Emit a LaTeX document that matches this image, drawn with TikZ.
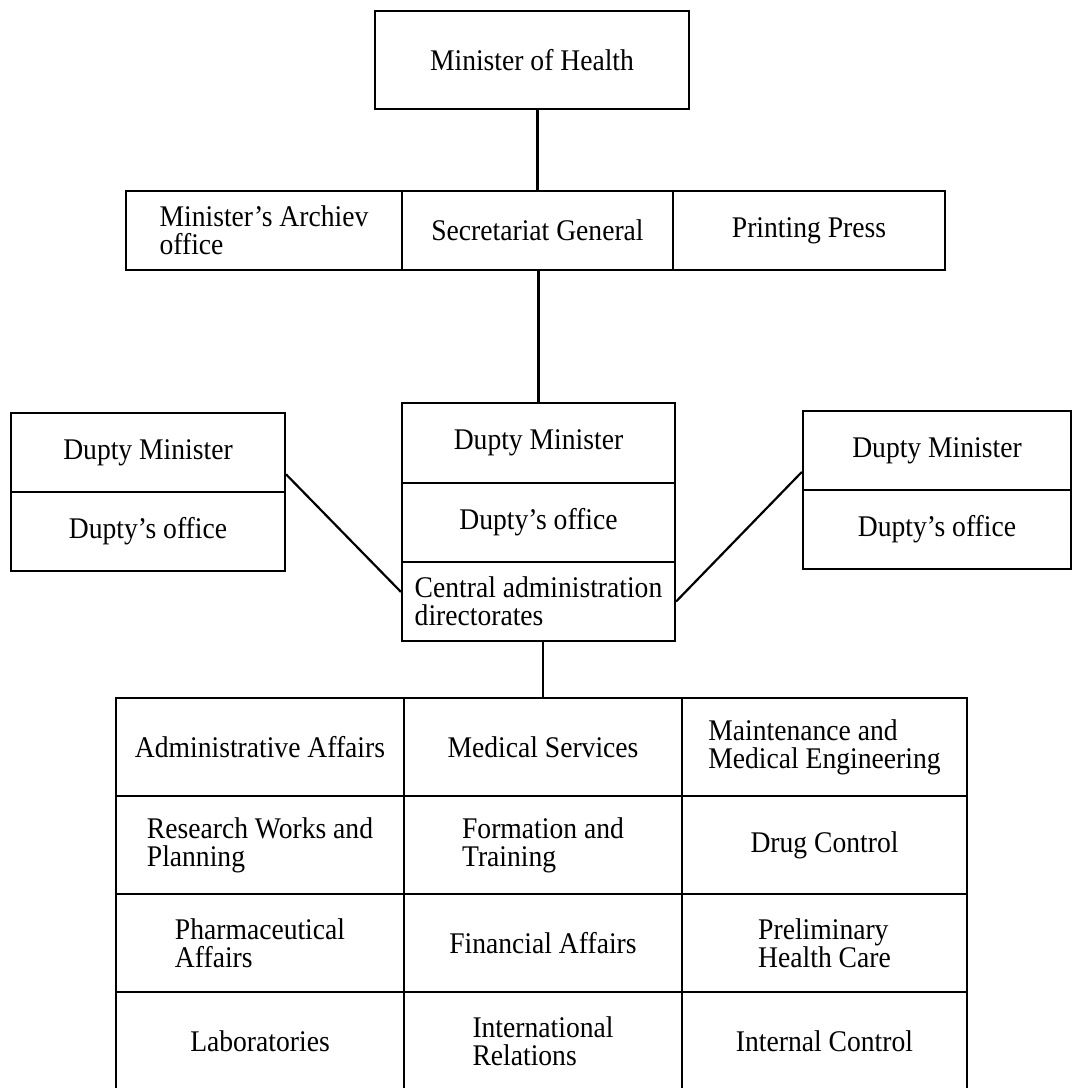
\documentclass[tikz,border=0pt]{standalone}
\usepackage{fontspec}
\setmainfont{Liberation Serif}[FakeStretch=0.92]
\begin{document}
\begin{tikzpicture}[x=1pt, y=-1pt,
            cell/.style = {draw, line width=2.2pt, inner sep=0pt,
                align=left, font=\fontsize{30}{28}\selectfont},
            dims/.style 2 args = {minimum width=#1pt, minimum height=#2pt},
            link/.style = {line width=2.2pt}]

        \useasboundingbox (0,0) rectangle (1074,1088);
        \clip (0,0) rectangle (1074,1088);

        % Minister
        \node[cell,dims={314}{98}] (chief) at (532,60) {Minister of Health};

        % Secretariat row
        \node[cell,dims={276}{79}] (archiv) at (264,230.5) {Minister's Archiev\\office};
        \node[cell,dims={271}{79}] (secgen) at (537.5,230.5) {Secretariat General};
        \node[cell,dims={272}{79}] (press) at (809,230.5) {Printing Press};

        % Deputies
        \node[cell,dims={273}{80}] (dmin) at (538.5,443) {Dupty Minister};
        \node[cell,dims={273}{79}] (doff) at (538.5,522.5) {Dupty's office};
        \node[cell,dims={273}{79}] (central) at (538.5,601.5) {Central administration\\directorates};

        \node[cell,dims={274}{79}] (ldmin) at (148,452.5) {Dupty Minister};
        \node[cell,dims={274}{79}] (ldoff) at (148,531.5) {Dupty's office};

        \node[cell,dims={268}{79}] (rdmin) at (937,450.5) {Dupty Minister};
        \node[cell,dims={268}{79}] (rdoff) at (937,529.5) {Dupty's office};

        % Directorates
        \node[cell,dims={288}{98}] (admin) at (260,747) {Administrative Affairs};
        \node[cell,dims={278}{98}] (medsrv) at (543,747) {Medical Services};
        \node[cell,dims={285}{98}] (maint) at (824.5,747) {Maintenance and\\Medical Engineering};

        \node[cell,dims={288}{98}] (research) at (260,845) {Research Works and\\Planning};
        \node[cell,dims={278}{98}] (training) at (543,845) {Formation and\\Training};
        \node[cell,dims={285}{98}] (drugs) at (824.5,845) {Drug Control};

        \node[cell,dims={288}{98}] (pharma) at (260,943) {Pharmaceutical\\Affairs};
        \node[cell,dims={278}{98}] (finance) at (543,943) {Financial Affairs};
        \node[cell,dims={285}{98}] (prelim) at (824.5,943) {Preliminary\\Health Care};

        \node[cell,dims={288}{98}] (labs) at (260,1041) {Laboratories};
        \node[cell,dims={278}{98}] (intrel) at (543,1041) {International\\Relations};
        \node[cell,dims={285}{98}] (intctrl) at (824.5,1041) {Internal Control};

        % Links
        \draw[link] (secgen.north |- chief.south) -- (secgen.north);
        \draw[link] (dmin.north |- secgen.south) -- (dmin.north);
        \draw[link] (ldmin.-9) -- (central.176);
        \draw[link] (rdmin.189) -- (central.east);
        \draw[link] (medsrv.north |- central.south) -- (medsrv.north);

        \end{tikzpicture}
\end{document}
